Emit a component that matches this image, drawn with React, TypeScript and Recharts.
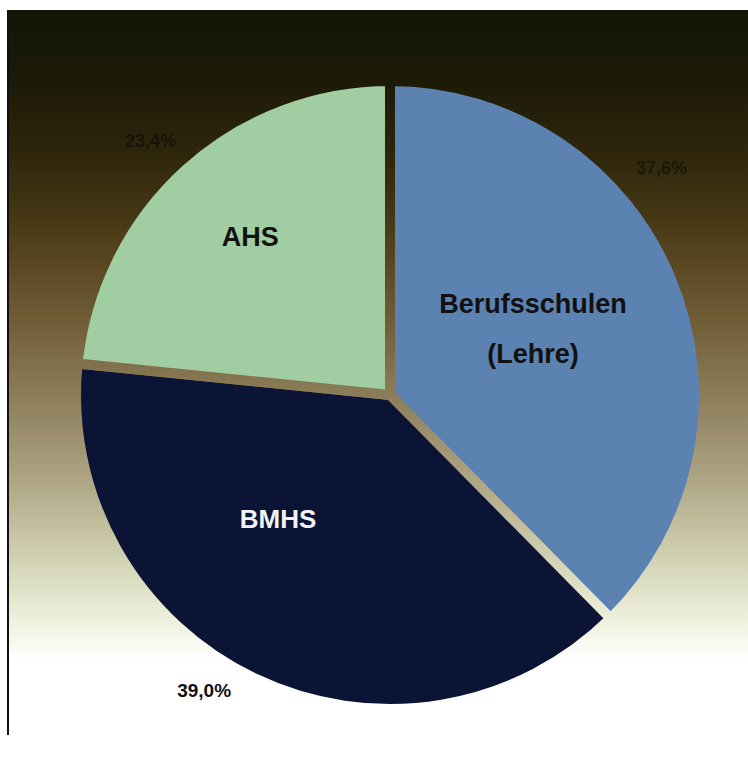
import { PieChart, Pie, Cell } from 'recharts';

// data
const categories = ['Berufsschulen (Lehre)', 'BMHS', 'AHS'];
const shares = [37.6, 39.0, 23.4];
const percentLabels = ['37,6%', '39,0%', '23,4%'];

const COLORS = ['#5b82b1', '#0b1434', '#a0cda2'];
const NAME_COLORS = ['#111111', '#f2f2f2', '#111111'];
const PCT_COLORS = ['#1a1808', '#111111', '#161407'];

// label placement: angle in degrees, distance as fraction of radius
const NAME_POS = [
  { angle: 24.8, r: 0.51 },
  { angle: 227.9, r: 0.54 },
  { angle: 131.5, r: 0.683 },
];
const PCT_POS = [
  { angle: 39.9, r: 1.145 },
  { angle: 237.8, r: 1.129 },
  { angle: 133.3, r: 1.13 },
];

// background gradient (offset, colour), from y=10 to the bottom
const BG_STOPS: [number, string][] = [
  [0, '#121605'],
  [0.093, '#1c1a07'],
  [0.2, '#30270c'],
  [0.306, '#4f3f1a'],
  [0.413, '#6f5d36'],
  [0.519, '#8e7f5c'],
  [0.626, '#aea584'],
  [0.732, '#d2d3b4'],
  [0.812, '#eef0dc'],
  [0.865, '#ffffff'],
  [1, '#ffffff'],
];

const W = 748;
const H = 761;
const TOP = 10;
const CX = 385;
const CY = 390;
const R = 309;
const GAP = 10;

const FONT = 'Arial, "Liberation Sans", sans-serif';

const chartData = categories.map((name, i) => ({ name, value: shares[i] }));

const renderLabel = (props: any) => {
  const { index } = props;
  const cx = props.cx ?? CX;
  const cy = props.cy ?? CY;
  const np = NAME_POS[index];
  const pp = PCT_POS[index];
  const rad = Math.PI / 180;
  const nx = cx + R * np.r * Math.cos(np.angle * rad);
  const ny = cy - R * np.r * Math.sin(np.angle * rad);
  const px = cx + R * pp.r * Math.cos(pp.angle * rad);
  const py = cy - R * pp.r * Math.sin(pp.angle * rad);
  const lines = categories[index].split(' ');
  const lh = 50;
  const y0 = ny - ((lines.length - 1) * lh) / 2;
  return (
    <g>
      {lines.map((line, j) => (
        <text
          key={j}
          x={nx}
          y={y0 + j * lh}
          textAnchor="middle"
          dominantBaseline="central"
          fill={NAME_COLORS[index]}
          fontFamily={FONT}
          fontWeight="bold"
          fontSize={index === 1 ? 26 : 27}
        >
          {line}
        </text>
      ))}
      <text
        x={px}
        y={py}
        textAnchor="middle"
        dominantBaseline="central"
        fill={PCT_COLORS[index]}
        fontFamily={FONT}
        fontWeight="bold"
        fontSize={index === 1 ? 19 : 18}
      >
        {percentLabels[index]}
      </text>
    </g>
  );
};

export default function App() {
  const cssGrad = `linear-gradient(to bottom, ${BG_STOPS.map(([o, c]) => `${c} ${o * 100}%`).join(', ')})`;
  return (
    <div style={{ position: 'absolute', left: 0, top: 0, width: W, height: H, background: '#ffffff', overflow: 'hidden' }}>
      <div style={{ position: 'absolute', left: 8, top: TOP, width: W - 8, height: H - TOP, background: cssGrad }} />
      <div style={{ position: 'absolute', left: 7, top: TOP, width: 2, height: 725, background: '#111111' }} />
      <div style={{ position: 'absolute', left: 0, top: 0 }}>
        <PieChart width={W} height={H}>
          <defs>
            <linearGradient id="bgStroke" gradientUnits="userSpaceOnUse" x1={0} y1={TOP} x2={0} y2={H}>
              {BG_STOPS.map(([o, c]) => (
                <stop key={o} offset={o} stopColor={c} />
              ))}
            </linearGradient>
          </defs>
          <Pie
            data={chartData}
            dataKey="value"
            nameKey="name"
            cx={CX}
            cy={CY}
            outerRadius={R + GAP / 2}
            startAngle={90}
            endAngle={-270}
            stroke="url(#bgStroke)"
            strokeWidth={GAP}
            strokeLinejoin="round"
            labelLine={false}
            label={renderLabel}
            isAnimationActive={false}
          >
            {chartData.map((entry, i) => (
              <Cell key={entry.name} fill={COLORS[i]} stroke="url(#bgStroke)" strokeWidth={GAP} />
            ))}
          </Pie>
        </PieChart>
      </div>
    </div>
  );
}
